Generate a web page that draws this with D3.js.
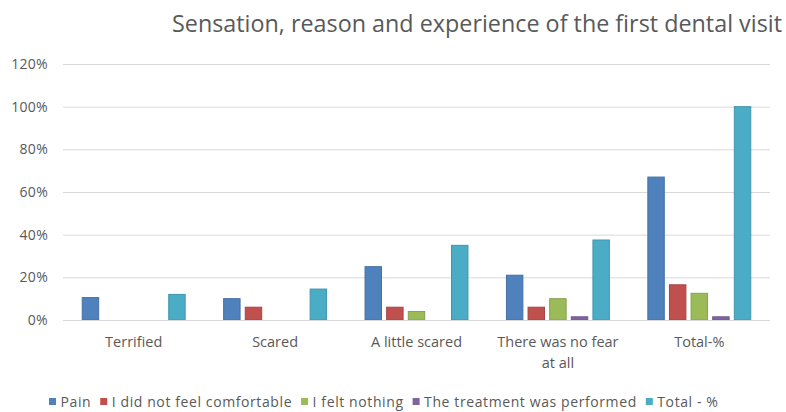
<!DOCTYPE html>
<html>
<head>
<meta charset="utf-8">
<script src="https://cdn.jsdelivr.net/npm/d3@7"></script>
<style>
  html, body { margin: 0; padding: 0; background: #ffffff; }
  svg { display: block; }
  text { font-family: "Open Sans", "DejaVu Sans", sans-serif; fill: #595959; }
</style>
</head>
<body>
<svg id="chart" width="786" height="412"></svg>
<script>
// Categories on the x axis
const categories = ["Terrified", "Scared", "A little scared", "There was no fear at all", "Total-%"];

// Series names (legend order)
const seriesNames = ["Pain", "I did not feel comfortable", "I felt nothing", "The treatment was performed", "Total - %"];
const seriesColors = ["#4F81BD", "#C0504D", "#9BBB59", "#8064A2", "#4BACC6"];

// Values per series, one per category (fractions of 1)
const pain        = [0.105, 0.10, 0.25, 0.21, 0.67];
const notComfy    = [0,     0.06, 0.06, 0.06, 0.165];
const feltNothing = [0,     0,    0.04, 0.10, 0.125];
const treatment   = [0,     0,    0,    0.015, 0.015];
const totalPct    = [0.12,  0.145, 0.35, 0.375, 1.00];

const seriesValues = [pain, notComfy, feltNothing, treatment, totalPct];

// Y axis ticks
const yTicks = [0, 0.2, 0.4, 0.6, 0.8, 1.0, 1.2];

const svg = d3.select("#chart");

const plot = { left: 63, right: 770, top: 64, bottom: 320 };

const x0 = d3.scaleBand()
  .domain(categories)
  .range([plot.left, plot.right])
  .paddingInner(0).paddingOuter(0);

const x1 = d3.scaleBand()
  .domain(seriesNames)
  .range([0, x0.bandwidth()])
  .paddingInner(0.24)
  .paddingOuter(0.89);

const y = d3.scaleLinear()
  .domain([0, 1.2])
  .range([plot.bottom, plot.top]);

// Title
svg.append("text")
  .attr("x", 172)
  .attr("y", 32)
  .attr("text-anchor", "start")
  .attr("textLength", 610)
  .attr("lengthAdjust", "spacing")
  .style("font-size", "23.3px")
  .text("Sensation, reason and experience of the first dental visit");

// Gridlines and y labels
const yAxis = d3.axisLeft(y)
  .tickValues(yTicks)
  .tickSize(-(plot.right - plot.left))
  .tickPadding(15)
  .tickFormat(d3.format(".0%"));

const gy = svg.append("g")
  .attr("transform", `translate(${plot.left},0)`)
  .call(yAxis);
gy.select(".domain").remove();
gy.selectAll(".tick line").attr("stroke", "#d9d9d9").attr("stroke-width", 1);
gy.selectAll(".tick text")
  .style("font-size", "14px")
  .style("letter-spacing", "0.3px")
  .style("font-family", "'Open Sans', sans-serif")
  .attr("fill", "#595959");

// Bars
const groups = svg.append("g").selectAll("g")
  .data(categories)
  .join("g")
  .attr("transform", d => `translate(${x0(d)},0)`);

groups.selectAll("rect")
  .data((c, ci) => seriesNames.map((s, si) => ({ s, si, v: seriesValues[si][ci] })))
  .join("rect")
  .filter(d => d.v > 0)
  .attr("x", d => x1(d.s))
  .attr("width", x1.bandwidth())
  .attr("y", d => y(d.v))
  .attr("height", d => y(0) - y(d.v))
  .attr("fill", d => seriesColors[d.si])
  .attr("stroke", d => d3.color(seriesColors[d.si]).darker(0.4))
  .attr("stroke-width", 1);

// Baseline
svg.append("line")
  .attr("x1", plot.left).attr("x2", plot.right)
  .attr("y1", y(0) + 0.5).attr("y2", y(0) + 0.5)
  .attr("stroke", "#d9d9d9");

// Category labels with wrapping
const xAxis = d3.axisBottom(x0).tickSize(0).tickPadding(17);
const gx = svg.append("g")
  .attr("transform", `translate(0,${plot.bottom})`)
  .call(xAxis);
gx.select(".domain").remove();
gx.selectAll(".tick text")
  .style("font-size", "14.5px")
  .style("font-family", "'Open Sans', sans-serif")
  .attr("fill", "#595959")
  .call(wrap, 128);

function wrap(sel, width) {
  sel.each(function () {
    const t = d3.select(this);
    const words = t.text().split(/\s+/);
    const yAttr = t.attr("y");
    const dy = parseFloat(t.attr("dy")) || 0;
    t.text(null);
    let line = [];
    let lineNo = 0;
    let tspan = t.append("tspan").attr("x", 0).attr("y", yAttr).attr("dy", dy + "em");
    for (const w of words) {
      line.push(w);
      tspan.text(line.join(" "));
      if (tspan.node().getComputedTextLength() > width && line.length > 1) {
        line.pop();
        tspan.text(line.join(" "));
        line = [w];
        lineNo++;
        tspan = t.append("tspan").attr("x", 0).attr("y", yAttr)
          .attr("dy", (lineNo * 1.4 + dy) + "em").text(w);
      }
    }
  });
}

// Legend
const legend = svg.append("g").attr("transform", "translate(0,402)");
let lx = 49;
seriesNames.forEach((name, i) => {
  const item = legend.append("g").attr("transform", `translate(${lx},0)`);
  item.append("rect")
    .attr("x", 0).attr("y", -4)
    .attr("width", 7).attr("height", 7)
    .attr("fill", seriesColors[i]);
  const t = item.append("text")
    .attr("x", 11.5).attr("y", 0).attr("dy", "0.35em")
    .style("font-size", "14px")
    .style("letter-spacing", "0.6px")
    .text(name);
  lx += 11.5 + t.node().getComputedTextLength() + 9;
});
</script>
</body>
</html>
